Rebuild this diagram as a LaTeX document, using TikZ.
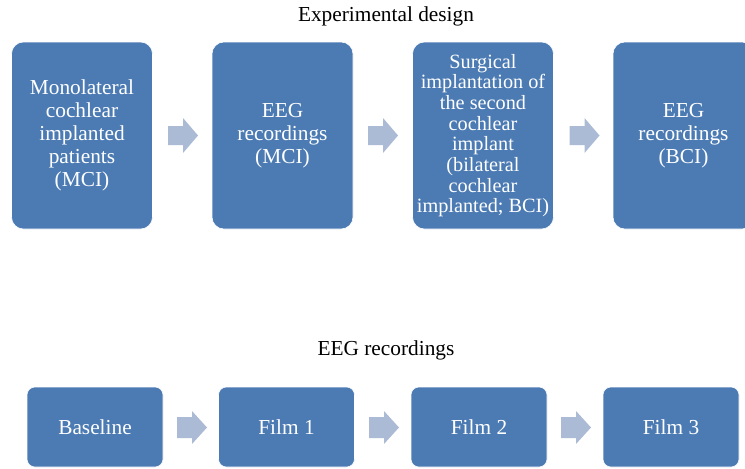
\documentclass[tikz,border=0pt]{standalone}
\usepackage{fontspec}
\setmainfont{Liberation Serif}

\definecolor{boxblue}{RGB}{76,123,180}
\definecolor{arrowgray}{RGB}{172,187,213}

\tikzset{
    pics/blockarrow/.style args={#1/#2}{code={
        \fill[arrowgray] (-15,-#1) -- (0,-#1) -- (0,-#2) -- (15,0)
            -- (0,#2) -- (0,#1) -- (-15,#1) -- cycle;
    }}
}

\begin{document}
\begin{tikzpicture}[x=0.75pt,y=-0.75pt]
    \tikzstyle{stage}=[rectangle,fill=boxblue,draw=white,rounded corners=9pt,
        text=white,align=center,inner sep=2pt,
        minimum width=105.75pt,minimum height=140.25pt,
        font=\fontsize{16}{17.2}\selectfont]
    \tikzstyle{part}=[stage,rounded corners=6pt,
        minimum width=102pt,minimum height=60pt]
    \tikzstyle{heading}=[anchor=base,font=\fontsize{16}{17}\selectfont]

    \useasboundingbox (0,0) rectangle (745,468);

    % Experimental design
    \node[heading] (design) at (386,21) {Experimental design};

    \node[stage] (S-1) at (82,135.5) {Monolateral\\cochlear\\implanted\\patients\\(MCI)};
    \node[stage] (S-2) at (282.5,135.5) {EEG\\recordings\\(MCI)};
    \node[stage,font=\fontsize{15.2}{15.5}\selectfont] (S-3) at (483,135.5)
        {Surgical\\implantation of\\the second\\cochlear\\implant\\(bilateral\\cochlear\\implanted; BCI)};
    \node[stage] (S-4) at (683.5,135.5) {EEG\\recordings\\(BCI)};

    % Arrows between the stages
    \pic (SA-1) at (183,135.5) {blockarrow=9.5/17.5};
    \pic (SA-2) at (383,135.5) {blockarrow=9.5/17.5};
    \pic (SA-3) at (584.5,135.5) {blockarrow=9.5/17.5};

    % EEG recordings
    \node[heading] (eeg) at (386,355) {EEG recordings};

    \node[part] (P-1) at (95,427) {Baseline};
    \node[part] (P-2) at (286.5,427) {Film 1};
    \node[part] (P-3) at (479,427) {Film 2};
    \node[part] (P-4) at (671,427) {Film 3};

    \pic (PA-1) at (192,427.5) {blockarrow=10.5/16.5};
    \pic (PA-2) at (384,427.5) {blockarrow=10.5/16.5};
    \pic (PA-3) at (576,427.5) {blockarrow=10.5/16.5};
\end{tikzpicture}
\end{document}
